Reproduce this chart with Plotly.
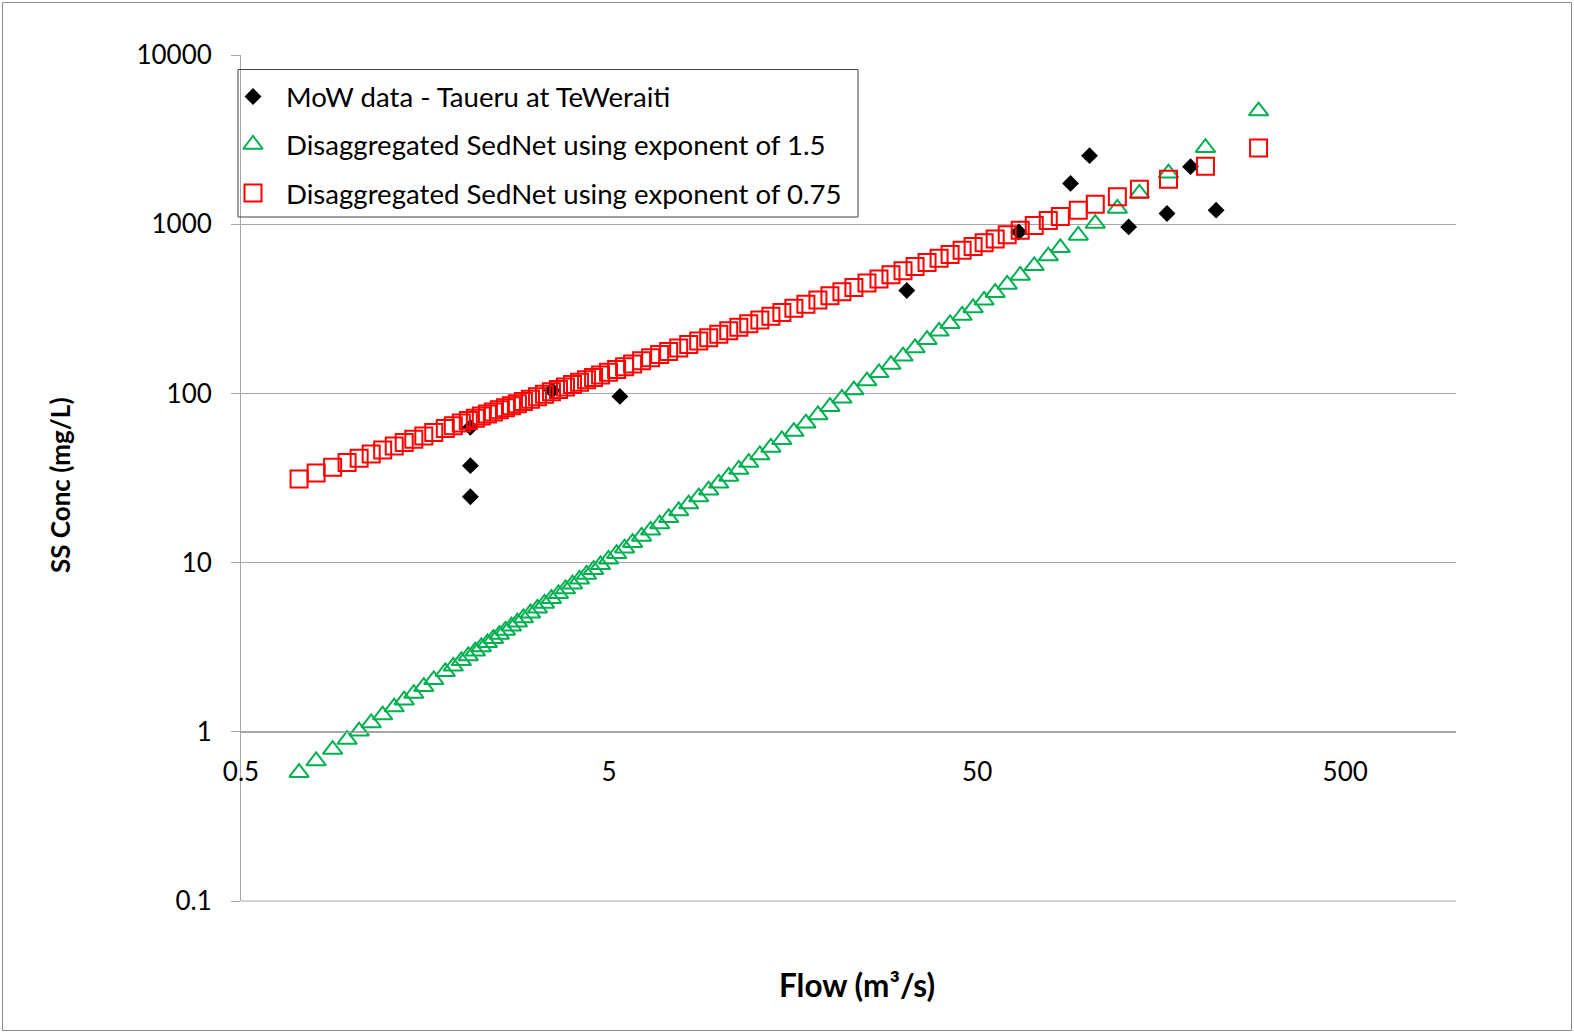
import math
import plotly.graph_objects as go

# Flow (m3/s) at which the disaggregated SedNet curves are evaluated
flow = [0.719, 0.800, 0.887, 0.971, 1.047, 1.129, 1.213, 1.304, 1.388, 1.474, 1.569, 1.670,
        1.795, 1.887, 1.984, 2.073, 2.166, 2.249, 2.336, 2.425, 2.518, 2.615, 2.715, 2.818, 2.926,
        3.058, 3.195, 3.338, 3.487, 3.644, 3.807, 3.978, 4.157, 4.343, 4.538, 4.741, 4.984,
        5.241, 5.510, 5.793, 6.129, 6.485, 6.862, 7.260, 7.729, 8.229, 8.761, 9.327, 9.931,
        10.57, 11.26, 11.98, 12.84, 13.76, 14.74, 15.89, 17.13, 18.47, 19.91, 21.46, 23.13, 25.10, 27.06,
        29.17, 31.45, 33.91, 36.55, 39.41, 42.22, 45.52, 48.76, 52.24, 55.98, 60.35, 65.46, 71.47,
        78.03, 84.14, 94.15, 104.7, 120.2, 138.0, 165.5, 208.6, 290.8]

# SS concentration (mg/L), exponent 1.5
conc_exp_150 = [0.573, 0.672, 0.785, 0.900, 1.008, 1.128, 1.256, 1.400, 1.538, 1.682, 1.847, 2.029,
                2.261, 2.438, 2.628, 2.807, 2.997, 3.172, 3.356, 3.550, 3.755, 3.974, 4.205, 4.447, 4.706,
                5.025, 5.366, 5.733, 6.122, 6.540, 6.982, 7.458, 7.964, 8.506, 9.085, 9.705, 10.46,
                11.28, 12.16, 13.11, 14.27, 15.52, 16.89, 18.39, 20.20, 22.19, 24.38, 26.78, 29.42,
                32.31, 35.50, 38.99, 43.24, 47.97, 53.19, 59.52, 66.64, 74.59, 83.49, 93.48, 104.6, 118.2, 132.3,
                148.1, 165.8, 185.6, 207.7, 232.6, 257.9, 288.7, 320.1, 354.9, 393.7, 440.6, 497.8, 567.8,
                647.7, 725.4, 858.8, 1008, 1239, 1523, 2001, 2833, 4661]

# SS concentration (mg/L), exponent 0.75
conc_exp_075 = [31.2, 33.8, 36.6, 39.1, 41.4, 43.8, 46.3, 48.8, 51.2, 53.5, 56.1, 58.8,
                62.0, 64.4, 66.9, 69.1, 71.4, 73.5, 75.6, 77.7, 80.0, 82.3, 84.6, 87.0, 89.5,
                92.5, 95.6, 98.8, 102.1, 105.5, 109.0, 112.7, 116.5, 120.3, 124.3, 128.5, 133.4,
                138.6, 143.9, 149.4, 155.8, 162.6, 169.6, 176.9, 185.4, 194.3, 203.7, 213.5, 223.8,
                234.6, 245.9, 257.7, 271.4, 285.8, 300.9, 318.4, 336.9, 356.3, 377.1, 398.9, 421.9, 448.5, 474.5,
                502.1, 531.1, 562.0, 594.6, 629.1, 662.4, 701.0, 738.1, 777.2, 818.5, 865.9, 920.6, 983.3,
                1050, 1111, 1209, 1310, 1453, 1611, 1846, 2197, 2817]

# Ministry of Works samples, Taueru at TeWeraiti
mow_flow = [2.10, 2.10, 2.10, 3.50, 5.35, 32.2, 64.9, 89.7, 101, 129, 164, 190, 223]
mow_conc = [63.0, 37.4, 24.5, 104, 96, 406, 900, 1742, 2542, 964, 1157, 2188, 1211]

x_ticks = [0.5, 5, 50, 500]
x_tick_text = ["0.5", "5", "50", "500"]
y_ticks = [0.1, 1, 10, 100, 1000, 10000]
y_tick_text = ["0.1", "1", "10", "100", "1000", "10000"]

legend_names = ["MoW data - Taueru at TeWeraiti",
                "Disaggregated SedNet using exponent of 1.5",
                "Disaggregated SedNet using exponent of 0.75"]

FONT = "Lato, 'Open Sans', sans-serif"
GREEN = "#00b050"
RED = "#ff0000"
GRID = "#a6a6a6"

W, H = 1574, 1033
L, R, T, B = 241, 1456, 55, 901  # plot area in pixels


def px(xp):
    return (xp - L) / (R - L)


def py(yp):
    return (B - yp) / (B - T)


fig = go.Figure()

fig.add_trace(go.Scatter(
    x=mow_flow, y=mow_conc, mode="markers", name=legend_names[0],
    marker=dict(symbol="diamond", size=13, color="black"), showlegend=False))
fig.add_trace(go.Scatter(
    x=flow, y=conc_exp_150, mode="markers", name=legend_names[1],
    marker=dict(symbol="triangle-up-open", size=17, color=GREEN, line=dict(width=2, color=GREEN)),
    showlegend=False))
fig.add_trace(go.Scatter(
    x=flow, y=conc_exp_075, mode="markers", name=legend_names[2],
    marker=dict(symbol="square-open", size=17, color=RED, line=dict(width=2, color=RED)),
    showlegend=False))

# Legend keys drawn on an overlay axis whose units equal the plot-area fraction
key_y = [96.5, 144.5, 193]
key_sym = ["diamond", "triangle-up-open", "square-open"]
key_col = ["black", GREEN, RED]
key_size = [13, 17, 17]
for i in range(3):
    fig.add_trace(go.Scatter(
        x=[px(253)], y=[py(key_y[i])], xaxis="x2", yaxis="y2", mode="markers",
        marker=dict(symbol=key_sym[i], size=key_size[i], color=key_col[i],
                    line=dict(width=2 if i else 0, color=key_col[i])),
        showlegend=False, cliponaxis=False, hoverinfo="skip"))

annotations = []
for i in range(3):
    annotations.append(dict(
        xref="paper", yref="paper", x=px(284), y=py(key_y[i]), xanchor="left", yanchor="middle",
        text=legend_names[i], showarrow=False, font=dict(family=FONT, size=27.6, color="black")))

# Axis titles
annotations.append(dict(
    xref="paper", yref="paper", x=px(857), y=py(985), xanchor="center", yanchor="middle",
    text="<b>Flow (m³/s)</b>", showarrow=False, font=dict(family=FONT, size=31.5, color="black")))
annotations.append(dict(
    xref="paper", yref="paper", x=px(60), y=py(485), xanchor="center", yanchor="middle",
    text="<b>SS Conc (mg/L)</b>", textangle=-90, showarrow=False,
    font=dict(family=FONT, size=26, color="black")))

shapes = [
    # lowest decade gridline (0.1) sits on the plot edge
    dict(type="line", xref="paper", yref="paper", x0=0, x1=1, y0=0, y1=0,
         line=dict(color=GRID, width=1), layer="below"),
    # legend frame
    dict(type="rect", xref="paper", yref="paper", x0=px(238), x1=px(858), y0=py(217), y1=py(69.5),
         line=dict(color="#404040", width=1), fillcolor="rgba(0,0,0,0)", layer="above"),
    # outer chart border
    dict(type="rect", xref="paper", yref="paper", x0=px(2.5), x1=px(1571.5), y0=py(1030.5), y1=py(2.5),
         line=dict(color="#8c8c8c", width=1), fillcolor="rgba(0,0,0,0)", layer="below"),
]

fig.update_layout(
    width=W, height=H, autosize=False,
    margin=dict(l=L, r=W - R, t=T, b=H - B, pad=0),
    paper_bgcolor="white", plot_bgcolor="white",
    font=dict(family=FONT, size=26, color="black"),
    showlegend=False,
    xaxis=dict(
        type="log", range=[math.log10(0.5), 3], tickvals=x_ticks, ticktext=x_tick_text,
        showgrid=False, zeroline=False, anchor="free", position=py(732),
        showline=True, linecolor=GRID, linewidth=1, ticks="", ticklabelstandoff=17,
        tickfont=dict(family=FONT, size=26, color="black")),
    yaxis=dict(
        type="log", range=[-1, 4], tickvals=y_ticks, ticktext=y_tick_text,
        showgrid=True, gridcolor=GRID, gridwidth=1, zeroline=False,
        showline=True, linecolor=GRID, linewidth=1, ticks="outside", ticklen=9, tickcolor=GRID,
        ticklabelstandoff=14, tickfont=dict(family=FONT, size=26, color="black")),
    xaxis2=dict(overlaying="x", range=[0, 1], visible=False, anchor="y2"),
    yaxis2=dict(overlaying="y", range=[0, 1], visible=False, anchor="x2"),
    annotations=annotations,
    shapes=shapes,
)

fig.write_html("out.html")
